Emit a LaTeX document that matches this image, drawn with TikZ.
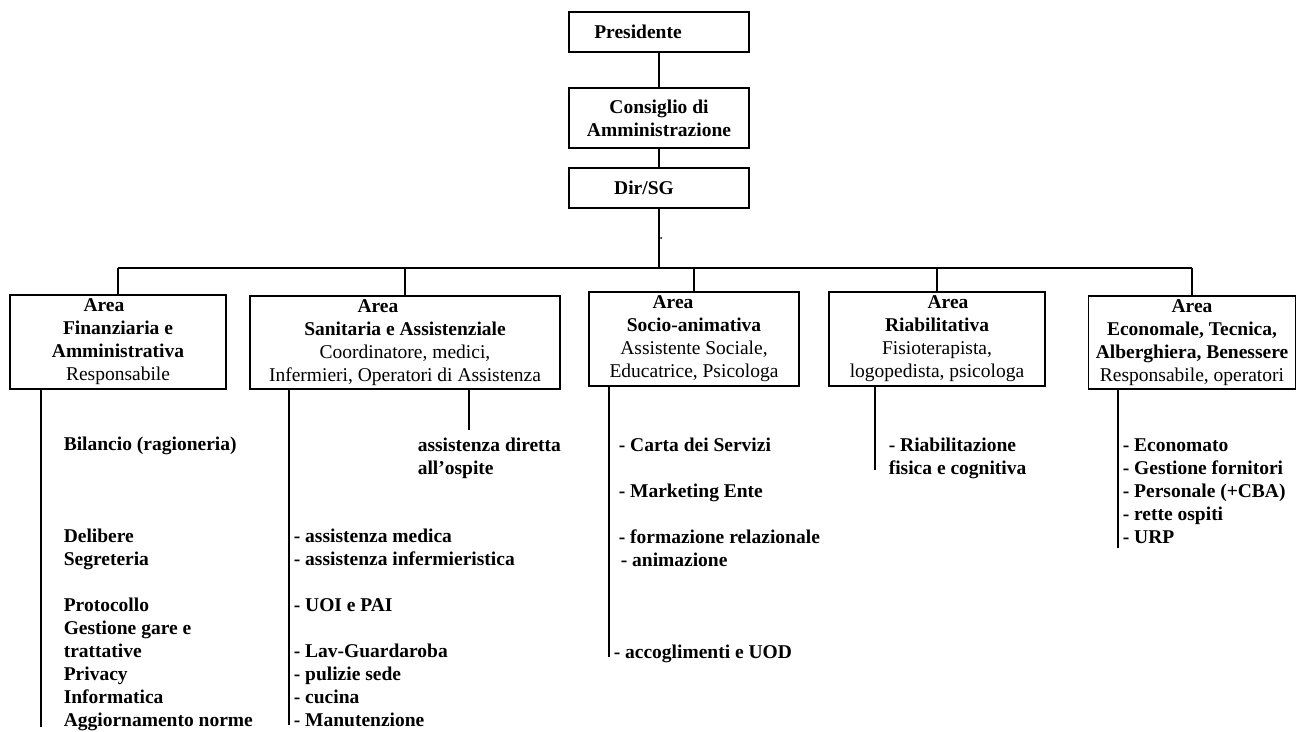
\documentclass[tikz,border=0pt]{standalone}
\usepackage{fontspec}
\setmainfont{Liberation Serif}
\begin{document}
\begin{tikzpicture}[
       x=1pt,
       y=-1pt,
       line width=1.6pt,
       ufficio/.style={
         draw,
         line width=1.6pt,
         align=center,
         inner sep=0pt,
         font=\fontsize{19.5}{23}\selectfont
       },
       vertice/.style={
         ufficio,
         minimum width=180pt,
         font=\fontsize{19.5}{23}\selectfont\bfseries
       },
       compiti/.style={
         anchor=base west,
         align=left,
         inner sep=0pt,
         font=\fontsize{19.5}{23}\selectfont\bfseries
       }
     ]
       \useasboundingbox (0,0) rectangle (1297,731);

       \node (pres) at (659,32) [vertice,minimum height=40pt]{Presidente\hspace*{42pt}};
       \node (cda) at (659,118) [vertice,minimum height=60pt]{Consiglio di\\Amministrazione};
       \node (dir) at (659,188) [vertice,minimum height=40pt]{Dir/SG\hspace*{30pt}};

       \node (b1) at (118,342) [ufficio,minimum width=216pt,minimum height=94pt]{\textbf{Area}\hspace*{28pt}\\\textbf{Finanziaria e}\\\textbf{Amministrativa}\\Responsabile};
       \node (b2) at (405,342.5) [ufficio,minimum width=310pt,minimum height=93pt]{\textbf{Area}\hspace*{54pt}\\\textbf{Sanitaria e Assistenziale}\\Coordinatore, medici,\\Infermieri, Operatori di Assistenza};
       \node (b3) at (694,339) [ufficio,minimum width=210pt,minimum height=94pt]{\textbf{Area}\hspace*{42pt}\\\textbf{Socio-animativa}\\Assistente Sociale,\\Educatrice, Psicologa};
       \node (b4) at (937,339) [ufficio,minimum width=216pt,minimum height=94pt]{\textbf{Area}\hspace*{-22pt}\\\textbf{Riabilitativa}\\Fisioterapista,\\logopedista, psicologa};
       \node (b5) at (1192,342.5) [ufficio,minimum width=207pt,minimum height=93pt]{\textbf{Area}\\\textbf{Economale, Tecnica,}\\\textbf{Alberghiera, Benessere}\\Responsabile, operatori};

       \coordinate (bus) at (659,268);
       \fill (661,238) circle (1pt);

       \draw (pres) -- (cda);
       \draw (cda) -- (dir);
       \draw (dir) -- (bus);
       \draw (b1.north |- bus) -- (b5.north |- bus);
       \draw (b1.north |- bus) -- (b1.north);
       \draw (b2.north |- bus) -- (b2.north);
       \draw (b3.north |- bus) -- (b3.north);
       \draw (b4.north |- bus) -- (b4.north);
       \draw (b5.north |- bus) -- (b5.north);

       \coordinate (f1) at (41,727);
       \coordinate (f2) at (289,725);
       \coordinate (f2b) at (469,430);
       \coordinate (f3) at (609,657);
       \coordinate (f4) at (875,470);
       \coordinate (f5) at (1118,548);

       \draw (b1.south -| f1) -- (f1);
       \draw (b2.south -| f2) -- (f2);
       \draw (b2.south -| f2b) -- (f2b);
       \draw (b3.south -| f3) -- (f3);
       \draw (b4.south -| f4) -- (f4);
       \draw (b5.south -| f5) -- (f5);

       \node (c1) at (63,726) [compiti]{Bilancio (ragioneria)\\[69pt]Delibere\\Segreteria\\[23pt]Protocollo\\Gestione gare e\\trattative\\Privacy\\Informatica\\Aggiornamento norme};
       \node (c2a) at (417,474) [compiti]{assistenza diretta\\all’ospite};
       \node (c2b) at (293,726) [compiti]{- assistenza medica\\- assistenza infermieristica\\[23pt]- UOI e PAI\\[23pt]- Lav-Guardaroba\\- pulizie sede\\- cucina\\- Manutenzione};
       \node (c3a) at (618,566) [compiti]{- Carta dei Servizi\\[23pt]- Marketing Ente\\[23pt]- formazione relazionale\\\hspace*{2pt}- animazione};
       \node (c3b) at (613,658) [compiti]{- accoglimenti e UOD};
       \node (c4) at (888,474) [compiti]{- Riabilitazione\\fisica e cognitiva};
       \node (c5) at (1122,543) [compiti]{- Economato\\- Gestione fornitori\\- Personale (+CBA)\\- rette ospiti\\- URP};

\end{tikzpicture}
\end{document}
